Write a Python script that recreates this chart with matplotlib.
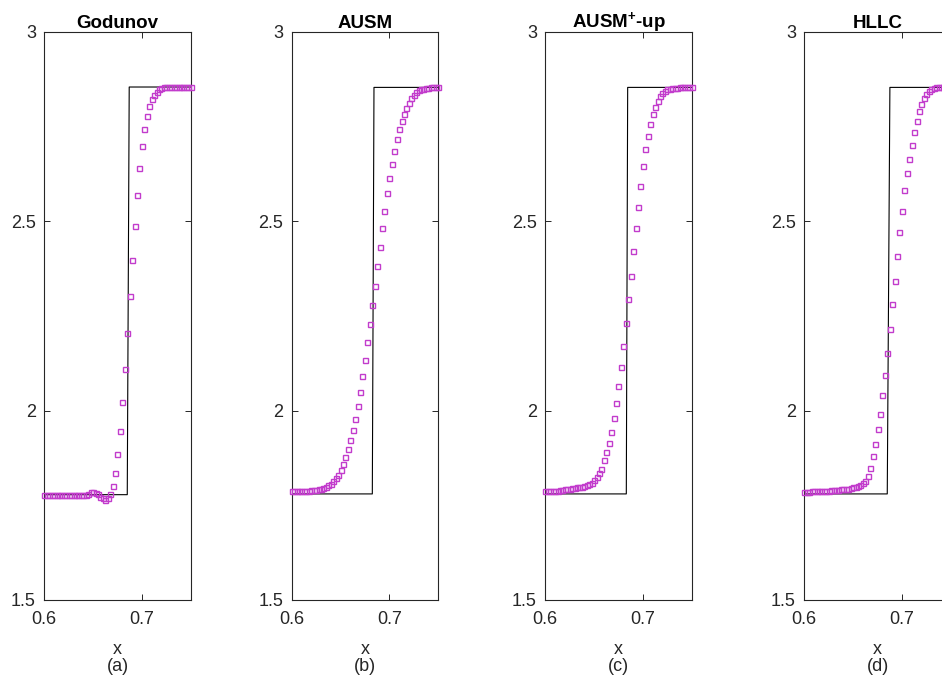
import numpy as np
import matplotlib
matplotlib.use("Agg")
import matplotlib.pyplot as plt

plt.rcParams['font.family'] = ['Liberation Sans', 'DejaVu Sans']
plt.rcParams['mathtext.fontset'] = 'custom'
plt.rcParams['mathtext.rm'] = 'Liberation Sans'
plt.rcParams['mathtext.bf'] = 'Liberation Sans:bold'

# ---- data -------------------------------------------------------------
titles = ["Godunov", "AUSM", r"AUSM$^{\mathbf{+}}$-up", "HLLC"]
sublabels = ["(a)", "(b)", "(c)", "(d)"]

# cell positions (uniform grid, spacing 0.0025)
x_cells = np.arange(61) * 0.0025 + 0.6

godunov = [1.777] * 18 + [
    1.781, 1.7845, 1.785, 1.783, 1.779, 1.773, 1.768, 1.764, 1.768, 1.780,
    1.801, 1.836, 1.8855, 1.947, 2.0235, 2.111, 2.205, 2.302, 2.397, 2.488,
    2.570, 2.641, 2.698, 2.744, 2.778, 2.805, 2.822, 2.833, 2.842, 2.848,
    2.851] + [2.853] * 12

ausm = [1.787, 1.787, 1.788, 1.788, 1.788, 1.789, 1.789, 1.789, 1.790, 1.790,
        1.791, 1.792, 1.793, 1.795, 1.799,
        1.803, 1.807, 1.814, 1.822, 1.831, 1.843, 1.858, 1.877, 1.898, 1.922,
        1.948, 1.978, 2.012, 2.050, 2.091, 2.134, 2.180, 2.228, 2.279, 2.329,
        2.381, 2.431, 2.481, 2.528, 2.573, 2.614, 2.652, 2.686, 2.717, 2.743,
        2.765, 2.783, 2.799, 2.813, 2.824, 2.833, 2.840, 2.845, 2.848, 2.850,
        2.851, 2.852, 2.853, 2.853, 2.853, 2.853]

ausm_up = [1.788, 1.788, 1.788, 1.788, 1.789, 1.789, 1.790, 1.791, 1.792, 1.793,
           1.794, 1.795, 1.796, 1.797, 1.798, 1.799, 1.801, 1.803, 1.806, 1.810,
           1.816, 1.824, 1.835, 1.847, 1.869, 1.890, 1.915, 1.943, 1.980, 2.020,
           2.066, 2.116, 2.171, 2.231, 2.294, 2.356, 2.420, 2.481, 2.538, 2.593,
           2.646, 2.690, 2.726, 2.757, 2.783, 2.802, 2.817, 2.829, 2.838, 2.843,
           2.848, 2.850, 2.851, 2.852, 2.852, 2.853, 2.853, 2.853, 2.853, 2.853,
           2.853]

hllc = [1.786, 1.786, 1.786, 1.787, 1.787, 1.787, 1.788, 1.788, 1.788, 1.789,
        1.789, 1.790, 1.790, 1.791, 1.791, 1.792, 1.792, 1.793, 1.794, 1.795,
        1.797, 1.799, 1.801, 1.804, 1.808, 1.813, 1.827, 1.848, 1.879, 1.911,
        1.951, 1.991, 2.040, 2.094, 2.153, 2.216, 2.280, 2.343, 2.408, 2.470,
        2.527, 2.582, 2.627, 2.665, 2.700, 2.735, 2.765, 2.790, 2.810, 2.825,
        2.836, 2.843, 2.848, 2.851, 2.853, 2.853, 2.853, 2.853, 2.853, 2.853,
        2.853]

numeric = [godunov, ausm, ausm_up, hllc]

# exact solution: (x, value) breakpoints for each panel
exact_x = [[0.6, 0.685, 0.687, 0.75],
           [0.6, 0.6826, 0.6843, 0.75],
           [0.6, 0.683, 0.6844, 0.75],
           [0.6, 0.685, 0.6877, 0.75]]
exact_y = [[1.778, 1.778, 2.854, 2.854],
           [1.780, 1.780, 2.853, 2.853],
           [1.780, 1.780, 2.853, 2.853],
           [1.780, 1.780, 2.853, 2.853]]

xticks = [0.6, 0.7]
yticks = [1.5, 2, 2.5, 3]
ytick_labels = ["1.5", "2", "2.5", "3"]

# ---- figure -----------------------------------------------------------
W, H = 942, 680
fig = plt.figure(figsize=(W / 100, H / 100), dpi=100)

lefts_px = [44.3, 291.7, 545.3, 804.3]
width_px = 146.4
bottom_px, top_px = 600.0, 31.7

axis_col = '#262626'
marker_col = '#c23ccc'

for i in range(4):
    ax = fig.add_axes([lefts_px[i] / W, (H - bottom_px) / H,
                       width_px / W, (bottom_px - top_px) / H])
    ax.plot(exact_x[i], exact_y[i], color='black', lw=0.8, zorder=2)
    ax.plot(x_cells, numeric[i], linestyle='none', marker='s',
            markersize=3.6, markerfacecolor='none',
            markeredgecolor=marker_col, markeredgewidth=1.0, zorder=3,
            clip_on=False)
    ax.set_xlim(0.6, 0.75)
    ax.set_ylim(1.5, 3)
    ax.set_xticks(xticks)
    ax.set_xticklabels(["0.6", "0.7"])
    ax.set_yticks(yticks)
    ax.set_yticklabels(ytick_labels)
    ax.tick_params(direction='in', length=4.1, width=0.7, colors=axis_col,
                   labelsize=13, top=True, right=True)
    ax.tick_params(axis='x', pad=8)
    ax.tick_params(axis='y', pad=6)
    for s in ax.spines.values():
        s.set_color(axis_col)
        s.set_linewidth(0.8)
    ax.set_title(titles[i], fontsize=13.5, fontweight='bold', pad=3)
    ax.set_xlabel("x\n" + sublabels[i], fontsize=13, color=axis_col,
                  labelpad=9, linespacing=1.05)

fig.savefig("out.png", dpi=100)
